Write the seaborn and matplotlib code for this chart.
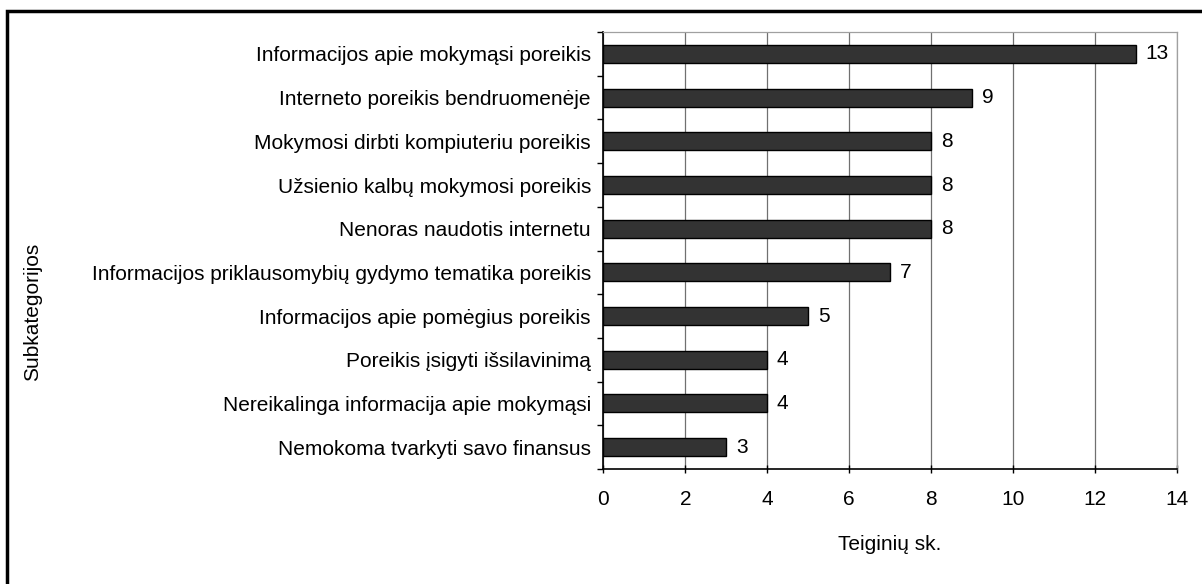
import matplotlib
matplotlib.use("Agg")
import matplotlib.pyplot as plt
import seaborn as sns
import pandas as pd
from matplotlib.patches import Rectangle

categories = [
    "Informacijos apie mokymąsi poreikis",
    "Interneto poreikis bendruomenėje",
    "Mokymosi dirbti kompiuteriu poreikis",
    "Užsienio kalbų mokymosi poreikis",
    "Nenoras naudotis internetu",
    "Informacijos priklausomybių gydymo tematika poreikis",
    "Informacijos apie pomėgius poreikis",
    "Poreikis įsigyti išsilavinimą",
    "Nereikalinga informacija apie mokymąsi",
    "Nemokoma tvarkyti savo finansus",
]
values = [13, 9, 8, 8, 8, 7, 5, 4, 4, 3]
x_ticks = [0, 2, 4, 6, 8, 10, 12, 14]
x_label = "Teiginių sk."
y_label = "Subkategorijos"

sns.set_theme(style="white")
plt.rcParams["font.family"] = ["Liberation Sans", "DejaVu Sans"]

FS = 15
df = pd.DataFrame({"cat": categories, "val": values})

fig = plt.figure(figsize=(12.02, 5.84), dpi=100)
ax = fig.add_axes([0.502, 0.197, 0.477, 0.748])

sns.barplot(data=df, y="cat", x="val", orient="h", color="#333333",
            edgecolor="black", linewidth=1.0, width=0.41, ax=ax, saturation=1)

ax.set_xlim(0, 14)
ax.set_ylim(len(categories) - 0.5, -0.5)
ax.set_xticks(x_ticks)
ax.set_xticklabels([str(t) for t in x_ticks], fontsize=FS, color="black")
ax.tick_params(axis="y", labelsize=FS, length=0, pad=9, labelcolor="black")
ax.tick_params(axis="x", bottom=True, direction="inout", length=6, width=1,
               color="black", pad=12)
ax.set_yticks(range(len(categories)))
ax.set_yticklabels(categories)
# category boundary ticks
ax.set_yticks([i - 0.5 for i in range(len(categories) + 1)], minor=True)
ax.tick_params(axis="y", which="minor", left=True, length=4, width=1, color="black")

ax.grid(axis="x", color="#707070", linewidth=0.9)
ax.set_axisbelow(True)
for s in ["top", "right"]:
    ax.spines[s].set_color("#a0a0a0")
    ax.spines[s].set_linewidth(0.9)
for s in ["left", "bottom"]:
    ax.spines[s].set_color("black")
    ax.spines[s].set_linewidth(1.2)

for cont in ax.containers:
    ax.bar_label(cont, labels=[str(v) for v in values], padding=7, fontsize=FS,
                 color="black")

ax.set_xlabel(x_label, fontsize=FS, labelpad=19, color="black")
ax.set_ylabel("")
fig.text(0.027, 0.466, y_label, rotation=90, fontsize=FS, ha="center", va="center",
         color="black")

fig.patches.append(Rectangle((0.006, -0.05), 1.1, 0.981 + 0.05, transform=fig.transFigure,
                             fill=False, edgecolor="black", linewidth=2.5, clip_on=False))

fig.savefig("out.png", dpi=100)
